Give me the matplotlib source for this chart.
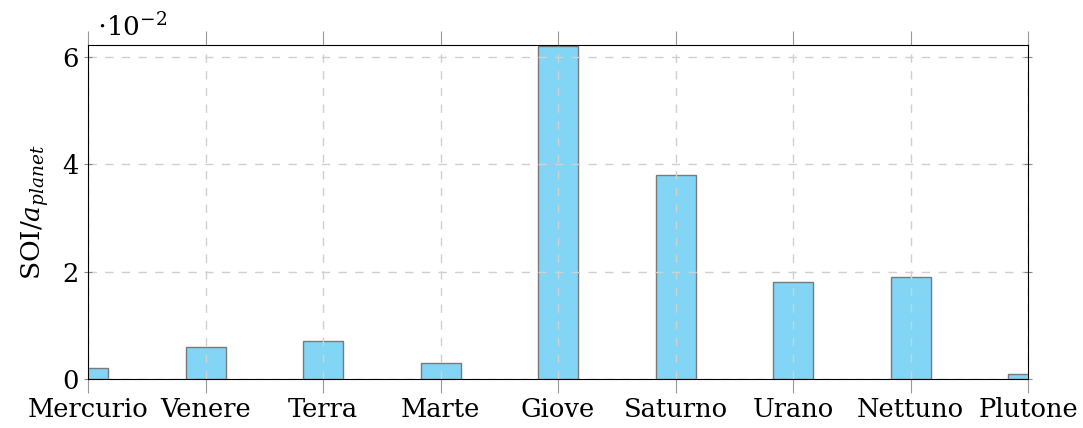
import matplotlib.pyplot as plt

planets = ['Mercurio', 'Venere', 'Terra', 'Marte', 'Giove', 'Saturno',
           'Urano', 'Nettuno', 'Plutone']
# SOI / a_planet, in units of 1e-2
soi_ratio = [0.2, 0.6, 0.7, 0.3, 6.2, 3.8, 1.8, 1.9, 0.1]

plt.rcParams['font.family'] = 'DejaVu Serif'
plt.rcParams['mathtext.fontset'] = 'dejavuserif'

fig = plt.figure(figsize=(10.83, 4.28), dpi=100)
ax = fig.add_axes([0.0813, 0.1145, 0.868, 0.7805])

index = list(range(len(planets)))
ax.bar(index, soi_ratio, width=0.34, color='#82d5f5', edgecolor='#7a7a7a',
       linewidth=1.0, zorder=2)

ax.set_xlim(0, 8)
ax.set_ylim(0, 6.22)
ax.set_xticks(index)
ax.set_xticklabels(planets, fontsize=18.5)
ax.set_yticks([0, 2, 4, 6])
ax.tick_params(axis='y', labelsize=18.5, direction='inout', length=6,
               color='#888888', right=True, pad=4)
ax.tick_params(axis='x', direction='out', length=10, color='#999999',
               top=True, pad=3)
ax.grid(True, linestyle=(0, (6, 6)), color='#d0d0d0', linewidth=1.0, zorder=3)
ax.set_axisbelow(False)
for s in ax.spines.values():
    s.set_zorder(4)

ax.set_ylabel(r'SOI$/a_{planet}$', fontsize=19, labelpad=8)
ax.text(0.01, 1.01, r'$\cdot 10^{-2}$', transform=ax.transAxes,
        fontsize=19, ha='left', va='bottom')

plt.savefig('out.png', dpi=100)
